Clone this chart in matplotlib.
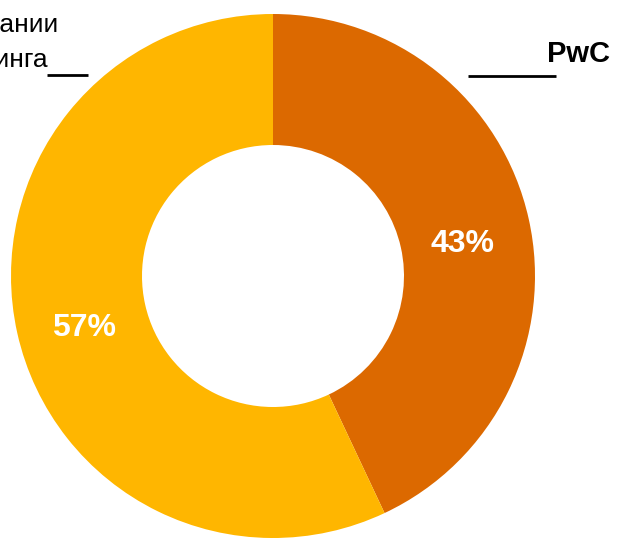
import matplotlib.pyplot as plt

plt.rcParams['font.family'] = ['Liberation Sans', 'DejaVu Sans']

# Data
labels = ['PwC', 'Прочие компании\nрынка консалтинга']
shares = [43, 57]
colors = ['#DC6900', '#FFB600']

fig = plt.figure(figsize=(6.21, 5.41), dpi=100)
ax = fig.add_axes([0, 0, 1, 1])

wedges, texts, autotexts = ax.pie(
    shares, colors=colors, startangle=90, counterclock=False,
    radius=262, center=(273, 265), autopct=lambda p: f'{p:.0f}%',
    pctdistance=0.74, wedgeprops=dict(width=131, linewidth=0),
    textprops=dict(color='white', fontsize=23, fontweight='bold'))
# labels sit a little lower than the default spot
for t in autotexts:
    x, y = t.get_position()
    t.set_position((x, y - 10))

ax.set_xlim(0, 621)
ax.set_ylim(0, 541)
ax.set_aspect('equal')
ax.axis('off')

# PwC label with leader line
ax.text(547, 479, labels[0], ha='left', va='baseline', fontsize=21,
        fontweight='bold', color='black')
ax.plot([468, 556], [465, 465], color='black', lw=2, solid_capstyle='butt')

# other companies label (runs off the left edge)
line1, line2 = labels[1].split('\n')
ax.text(58, 509, line1, ha='right', va='baseline', fontsize=19, color='black')
ax.text(48, 474, line2, ha='right', va='baseline', fontsize=19, color='black')
ax.plot([47, 88], [466, 466], color='black', lw=2, solid_capstyle='butt')

fig.savefig('out.png', dpi=100, facecolor='white')
